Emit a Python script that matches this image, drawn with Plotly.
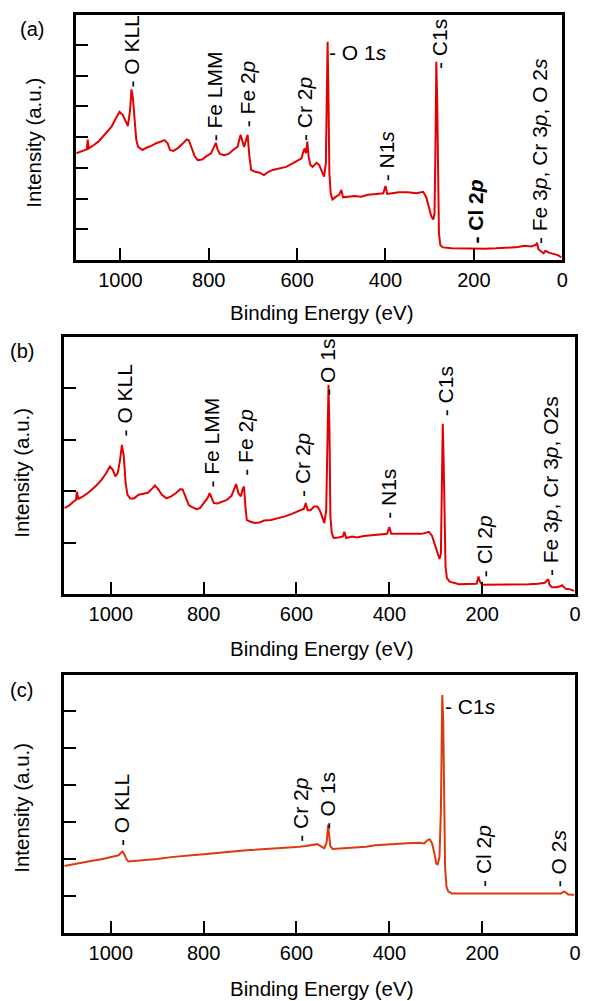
import plotly.graph_objects as go

# ---------------- data ----------------
be_a = [1100, 1090, 1080, 1076, 1074, 1072, 1060, 1050, 1040, 1030, 1020, 1010, 1002, 995, 988, 983,
        978, 975, 972, 968, 964, 960, 950, 940, 930, 920, 910, 900, 893, 888, 880, 870, 860, 850,
        845, 838, 832, 825, 815, 805, 795, 788, 784, 780, 775, 765, 755, 745, 735, 728, 725, 720,
        716, 712, 708, 704, 695, 685, 675, 665, 655, 640, 625, 610, 598, 590, 586, 583, 580, 577,
        574, 570, 565, 556, 550, 544, 539, 535, 533, 531, 529, 527, 524, 520, 512, 505, 500, 496,
        485, 470, 455, 440, 420, 405, 400, 396, 385, 370, 350, 330, 315, 308, 302, 296, 292, 289,
        287, 285, 283, 281, 279, 276, 270, 250, 220, 200, 175, 150, 120, 100, 85, 70, 60, 57, 54,
        48, 42, 38, 30, 20, 10, 2]
int_a = [3.47, 3.52, 3.58, 3.60, 3.92, 3.63, 3.74, 3.85, 4.01, 4.17, 4.34, 4.61, 4.82, 4.72, 4.50, 4.36,
         4.88, 5.55, 5.31, 4.55, 3.90, 3.68, 3.58, 3.66, 3.71, 3.79, 3.85, 3.90, 3.80, 3.58, 3.55, 3.64, 3.77, 3.92,
         3.89, 3.58, 3.38, 3.25, 3.27, 3.38, 3.47, 3.68, 3.81, 3.60, 3.45, 3.41, 3.45, 3.58, 3.68, 4.07, 3.92, 3.68,
         3.89, 4.07, 3.36, 2.93, 2.87, 2.84, 2.76, 2.87, 2.93, 2.97, 3.03, 3.14, 3.25, 3.31, 3.52, 3.63, 3.47, 3.85,
         3.36, 3.09, 3.03, 3.16, 3.09, 2.87, 2.71, 3.14, 5.20, 7.10, 5.20, 2.82, 2.17, 1.97, 2.06, 2.12, 2.28, 2.04,
         2.06, 2.08, 2.06, 2.12, 2.15, 2.17, 2.41, 2.15, 2.17, 2.20, 2.20, 2.17, 2.22, 2.06, 1.73, 1.41, 1.32, 1.52,
         3.58, 6.45, 5.20, 2.00, 0.87, 0.49, 0.41, 0.38, 0.37, 0.38, 0.37, 0.38, 0.39, 0.42, 0.46, 0.44, 0.49, 0.56, 0.35,
         0.27, 0.22, 0.30, 0.24, 0.20, 0.16, 0.09]

be_b = [1100, 1090, 1080, 1075, 1073, 1070, 1060, 1050, 1040, 1030, 1020, 1010, 1002, 996, 990, 985,
        980, 976, 972, 968, 964, 958, 950, 940, 930, 920, 910, 905, 898, 890, 880, 870, 860, 850,
        845, 838, 832, 825, 815, 808, 800, 792, 787, 783, 778, 770, 760, 750, 740, 733, 730, 725,
        720, 716, 713, 710, 707, 700, 690, 680, 670, 655, 640, 625, 610, 600, 590, 584, 580, 576,
        570, 562, 555, 550, 545, 540, 536, 533, 531, 529, 527, 524, 520, 510, 500, 497, 493, 480,
        470, 455, 440, 420, 405, 400, 396, 385, 370, 350, 330, 315, 308, 302, 296, 292, 289, 287,
        285, 283, 281, 279, 276, 270, 250, 230, 212, 208, 205, 200, 175, 150, 120, 100, 80, 65,
        58, 55, 50, 40, 32, 28, 20, 10, 2]
int_b = [1.67, 1.72, 1.80, 1.83, 1.99, 1.85, 1.90, 1.96, 2.04, 2.12, 2.22, 2.35, 2.48, 2.42, 2.29, 2.35,
         2.61, 2.90, 2.68, 2.16, 1.93, 1.86, 1.86, 1.93, 1.95, 1.97, 2.06, 2.11, 2.04, 1.93, 1.86, 1.90, 1.96, 2.04,
         2.03, 1.86, 1.73, 1.69, 1.65, 1.67, 1.77, 1.86, 1.96, 1.86, 1.77, 1.76, 1.80, 1.83, 1.91, 2.09, 2.14, 1.96,
         1.90, 2.04, 2.09, 1.70, 1.44, 1.41, 1.38, 1.39, 1.43, 1.44, 1.47, 1.51, 1.56, 1.60, 1.63, 1.66, 1.77, 1.63,
         1.63, 1.70, 1.70, 1.63, 1.51, 1.38, 1.63, 3.20, 4.07, 3.20, 1.51, 1.18, 1.09, 1.10, 1.12, 1.21, 1.09, 1.12,
         1.10, 1.13, 1.14, 1.15, 1.17, 1.30, 1.17, 1.17, 1.17, 1.18, 1.17, 1.21, 1.13, 0.96, 0.76, 0.68, 0.79, 1.90,
         3.31, 2.55, 1.12, 0.53, 0.31, 0.24, 0.19, 0.19, 0.20, 0.34, 0.24, 0.18, 0.18, 0.18, 0.18, 0.19, 0.20, 0.22,
         0.29, 0.18, 0.13, 0.13, 0.15, 0.17, 0.10, 0.09, 0.06]

be_c = [1100, 1080, 1060, 1040, 1020, 1000, 990, 983, 978, 975, 970, 966, 962, 950, 930, 900, 870,
        850, 820, 800, 770, 750, 720, 700, 670, 650, 620, 600, 580, 565, 555, 548, 540, 535, 532,
        530, 527, 522, 510, 490, 470, 450, 430, 410, 390, 370, 350, 335, 325, 318, 313, 308, 303,
        299, 296, 292, 289, 287, 286, 284, 282, 280, 277, 273, 265, 240, 200, 150, 100, 60, 40, 30,
        24, 20, 15, 8, 2]
int_c = [1.81, 1.86, 1.92, 1.95, 1.99, 2.05, 2.07, 2.10, 2.17, 2.20, 2.11, 1.99, 1.93, 1.94, 1.97, 2.00, 2.05,
         2.08, 2.11, 2.13, 2.17, 2.19, 2.22, 2.24, 2.26, 2.27, 2.30, 2.32, 2.35, 2.39, 2.40, 2.35, 2.29, 2.45, 2.92,
         2.69, 2.34, 2.27, 2.28, 2.29, 2.32, 2.33, 2.37, 2.39, 2.42, 2.42, 2.43, 2.44, 2.42, 2.51, 2.53, 2.42, 2.15,
         1.88, 1.84, 2.06, 3.32, 5.58, 6.43, 5.76, 3.78, 1.79, 1.25, 1.12, 1.07, 1.07, 1.07, 1.05, 1.05, 1.05, 1.05, 1.07,
         1.12, 1.10, 1.04, 1.03, 1.03]

x_ticks = [0, 200, 400, 600, 800, 1000]
x_ticktext = ["0", "200", "400", "600", "800", "1000"]

# peak labels: (text, energy, intensity, angle)
labels_a = [("- O KLL", 975, 5.59, -90), ("- Fe LMM", 785, 3.84, -90), ("- Fe 2<i>p</i>", 712, 4.29, -90),
            ("- Cr 2<i>p</i>", 582, 3.84, -90), ("- N1<i>s</i>", 399, 2.54, -90), ("- C1s", 279, 6.18, -90),
            ("<b>- Cl 2<i>p</i></b>", 196, 0.49, -90), ("- Fe 3<i>p</i>, Cr 3<i>p</i>, O 2<i>s</i>", 50, 0.49, -90),
            ("- O 1<i>s</i>", 529, 6.76, 0)]
labels_b = [("- O KLL", 970, 3.04, -90), ("- Fe LMM", 782, 2.05, -90), ("- Fe 2<i>p</i>", 710, 2.28, -90),
            ("- Cr 2<i>p</i>", 586, 1.87, -90), ("- O 1s", 533, 3.84, -90), ("- N1s", 401, 1.44, -90),
            ("- C1s", 279, 3.43, -90), ("- Cl 2<i>p</i>", 196, 0.31, -90),
            ("- Fe 3<i>p</i>, Cr 3<i>p</i>, O2s", 54, 0.33, -90)]
labels_c = [("- O KLL", 978, 2.32, -90), ("- Cr 2<i>p</i>", 593, 2.43, -90), ("- O 1s", 533, 2.78, -90),
            ("- Cl 2<i>p</i>", 196, 1.22, -90), ("- O 2<i>s</i>", 36, 1.22, -90), ("- C1<i>s</i>", 282, 6.11, 0)]

# ---------------- figure ----------------
W, H = 589, 1001
FONT = "Liberation Sans, Arial, sans-serif"
RED = "#e30000"
ORANGE = "#dc3a0c"

fig = go.Figure()
fig.add_trace(go.Scatter(x=be_a, y=int_a, mode="lines", line=dict(color=RED, width=2),
                         xaxis="x", yaxis="y", showlegend=False))
fig.add_trace(go.Scatter(x=be_b, y=int_b, mode="lines", line=dict(color=RED, width=2),
                         xaxis="x2", yaxis="y2", showlegend=False))
fig.add_trace(go.Scatter(x=be_c, y=int_c, mode="lines", line=dict(color=ORANGE, width=2),
                         xaxis="x3", yaxis="y3", showlegend=False))


def xax(domain, anchor):
    return dict(domain=domain, anchor=anchor, range=[1100, 0], tickmode="array",
                tickvals=x_ticks, ticktext=x_ticktext, ticks="inside", ticklen=12, tickwidth=2,
                tickcolor="black", showline=True, linewidth=2.5, linecolor="black", mirror=True,
                showgrid=False, zeroline=False, tickfont=dict(family=FONT, size=20, color="black"))


def yax(domain, anchor, top, nt):
    return dict(domain=domain, anchor=anchor, range=[0, top], tickmode="array",
                tickvals=list(range(1, nt + 1)), showticklabels=False, ticks="inside", ticklen=12,
                tickwidth=2, tickcolor="black", showline=True, linewidth=2.5, linecolor="black",
                mirror=True, showgrid=False, zeroline=False)


def px2x(px):
    return px / W


def px2y(py):
    return 1 - py / H


fig.update_layout(
    width=W, height=H, margin=dict(l=0, r=0, t=0, b=0),
    paper_bgcolor="white", plot_bgcolor="white",
    font=dict(family=FONT, size=20, color="black"),
    xaxis=xax([px2x(77), px2x(568)], "y"),
    yaxis=yax([px2y(260), px2y(15)], "x", 7.97, 7),
    xaxis2=xax([px2x(65), px2x(581)], "y2"),
    yaxis2=yax([px2y(594), px2y(337)], "x2", 5.0, 4),
    xaxis3=xax([px2x(65), px2x(581)], "y3"),
    yaxis3=yax([px2y(933), px2y(675)], "x3", 6.97, 6),
)

ann = []
for labels, xr, yr in [(labels_a, "x", "y"), (labels_b, "x2", "y2"), (labels_c, "x3", "y3")]:
    for text, xe, yi, ang in labels:
        if ang == -90:
            ann.append(dict(text=text, x=xe, y=yi, xref=xr, yref=yr, textangle=-90, showarrow=False,
                            xanchor="center", yanchor="bottom", borderpad=0,
                            font=dict(family=FONT, size=21)))
        else:
            ann.append(dict(text=text, x=xe, y=yi, xref=xr, yref=yr, showarrow=False,
                            xanchor="left", yanchor="middle", borderpad=0,
                            font=dict(family=FONT, size=21)))

# panel letters, axis titles
for letter, lx, ly in [("(a)", 32, 29), ("(b)", 22, 351), ("(c)", 22, 690)]:
    ann.append(dict(text=letter, x=px2x(lx), y=px2y(ly), xref="paper", yref="paper", showarrow=False,
                    xanchor="center", yanchor="middle", font=dict(family=FONT, size=20)))
for tx, ty in [(325, 312), (325, 648), (325, 988)]:
    ann.append(dict(text="Binding Energy (eV)", x=px2x(tx), y=px2y(ty), xref="paper", yref="paper",
                    showarrow=False, xanchor="center", yanchor="middle", font=dict(family=FONT, size=20.5)))
for tx, ty in [(34, 143), (21, 473), (21, 808)]:
    ann.append(dict(text="Intensity (a.u.)", x=px2x(tx), y=px2y(ty), xref="paper", yref="paper",
                    textangle=-90, showarrow=False, xanchor="center", yanchor="middle",
                    font=dict(family=FONT, size=20.5)))
fig.update_layout(annotations=ann)

fig.write_html("out.html")
